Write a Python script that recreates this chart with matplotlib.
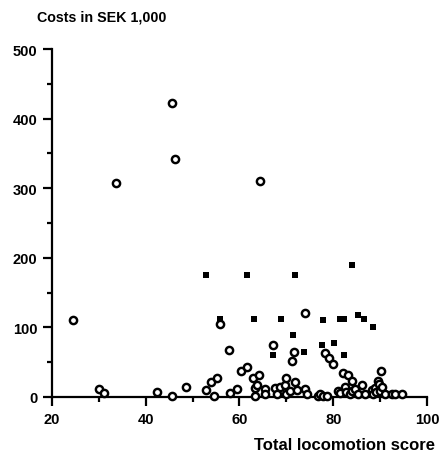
import matplotlib
matplotlib.use("Agg")
import matplotlib.pyplot as plt
from matplotlib.ticker import MultipleLocator

# Open circles: total locomotion score vs cost (SEK 1,000)
circle_score = [24.4, 30.1, 31.2, 33.6, 42.3, 45.6, 45.7, 46.2, 48.5,
                52.9, 53.9, 54.6, 55.1, 55.8, 57.8, 58.0, 59.4, 60.3, 61.7, 62.8,
                63.3, 63.3, 63.7, 64.2, 64.4, 65.4, 65.4,
                67.2, 67.6, 67.9, 68.6, 69.7, 69.9, 70.0, 70.7, 71.1, 71.6, 71.8,
                72.2, 74.0, 74.0, 74.3, 76.8, 77.2, 77.9,
                78.2, 79.0, 80.0, 78.6, 81.1, 81.4, 82.1, 82.5, 82.8, 83.2, 83.6,
                83.9, 84.0, 84.6, 85.3, 86.1, 86.8, 88.3, 88.5, 89.0, 89.2, 89.6,
                89.8, 90.0, 90.2, 90.5, 91.0, 92.5, 93.2, 94.6]
circle_cost = [110, 12, 6, 307, 7, 1, 423, 342, 15,
               10, 21, 1, 27, 105, 68, 6, 11, 37, 43, 27,
               13, 2, 17, 31, 310, 11, 4,
               74, 13, 4, 14, 17, 27, 4, 8, 51, 65, 21,
               10, 121, 11, 5, 2, 4, 2,
               63, 56, 48, 2, 9, 6, 35, 14, 7, 31, 4,
               23, 9, 11, 4, 17, 5, 10, 4, 13, 7, 23,
               18, 9, 37, 14, 4, 5, 4, 4]

# Filled squares
square_score = [52.9, 61.5, 71.8, 84.1, 55.8, 63.2, 68.9, 77.9, 81.4, 82.3,
                85.3, 86.6, 88.4, 71.5, 67.2, 73.8, 77.7, 80.2, 82.4]
square_cost = [175, 175, 175, 190, 112, 112, 112, 111, 112, 112,
               118, 112, 100, 89, 60, 65, 74, 78, 60]

x_ticks = [20, 40, 60, 80, 100]
y_ticks = [0, 100, 200, 300, 400, 500]

font = ['Liberation Sans', 'DejaVu Sans']
plt.rcParams['font.family'] = font

fig = plt.figure(figsize=(4.42, 4.60), dpi=100)
ax = fig.add_axes([0.1176, 0.1348, 0.8484, 0.7565])

ax.plot(circle_score, circle_cost, linestyle='none', marker='o', markersize=5.2,
        markerfacecolor='white', markeredgecolor='black', markeredgewidth=1.75,
        clip_on=False, zorder=3)
ax.plot(square_score, square_cost, linestyle='none', marker='s', markersize=4.4,
        markerfacecolor='black', markeredgecolor='black', markeredgewidth=0,
        clip_on=False, zorder=4)

ax.set_xlim(20, 100)
ax.set_ylim(0, 500)
ax.set_xticks(x_ticks)
ax.set_yticks(y_ticks)
ax.xaxis.set_minor_locator(MultipleLocator(10))
ax.yaxis.set_minor_locator(MultipleLocator(50))

for s in ['top', 'right']:
    ax.spines[s].set_visible(False)
for s in ['left', 'bottom']:
    ax.spines[s].set_linewidth(1.6)

ax.tick_params(which='major', direction='out', length=6.5, width=1.6,
               labelsize=10.5, pad=4)
ax.tick_params(which='minor', direction='out', length=3.5, width=1.6)
for lab in ax.get_xticklabels() + ax.get_yticklabels():
    lab.set_fontweight('bold')

fig.text(37 / 442, 1 - 17 / 460, 'Costs in SEK 1,000', ha='left', va='center',
         fontsize=10.3, fontweight='bold')
fig.text(435 / 442, 1 - 446 / 460, 'Total locomotion score', ha='right', va='center',
         fontsize=12, fontweight='bold')

fig.savefig('out.png', dpi=100)
